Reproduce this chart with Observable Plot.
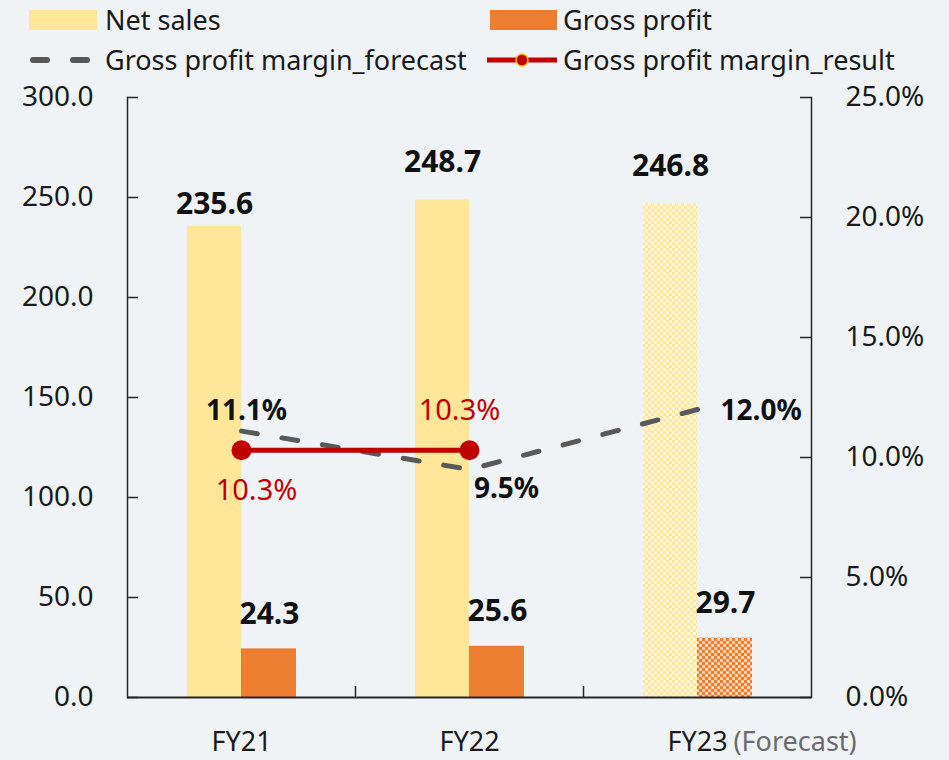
<!DOCTYPE html>
<html>
<head>
<meta charset="utf-8">
<script src="https://cdn.jsdelivr.net/npm/d3@7"></script>
<script src="https://cdn.jsdelivr.net/npm/@observablehq/plot@0.6"></script>
<style>
  html, body { margin: 0; padding: 0; background: #F0F3F5; }
  body { width: 949px; height: 760px; overflow: hidden; font-family: "Noto Sans", sans-serif; color: #1a1a1a; }
  #legend { position: relative; width: 949px; height: 80px; }
  #legend .t { position: absolute; font-size: 27px; line-height: 40px; white-space: nowrap; }
  #legend .sw { position: absolute; }
  #chart svg { display: block; }
</style>
</head>
<body>
<div id="legend"></div>
<div id="chart"></div>
<script>
// ---- data ----
const categories = ["FY21", "FY22", "FY23"];
const netSales = [235.6, 248.7, 246.8];
const grossProfit = [24.3, 25.6, 29.7];
const marginForecast = [11.1, 9.5, 12.0];
const marginResult = [10.3, 10.3]; // FY21, FY22 results
const forecastCategories = ["FY23"];
const leftTicks = [0, 50, 100, 150, 200, 250, 300];
const rightTicks = [0, 5, 10, 15, 20, 25];
const seriesNames = ["Net sales", "Gross profit", "Gross profit margin_forecast", "Gross profit margin_result"];

const C_NET = "#FFE699", C_GROSS = "#ED7D31", C_RED = "#C00000", C_DASH = "#595959", C_AXIS = "#262626";
const PCT = 300 / 25; // right-axis % -> left-axis units

const rows = categories.map((c, i) => ({cat: c, net: netSales[i], gross: grossProfit[i], fc: marginForecast[i] * PCT, fv: marginForecast[i], forecast: forecastCategories.includes(c)}));
const resultRows = marginResult.map((v, i) => ({cat: categories[i], r: v * PCT, v}));
const actual = rows.filter(d => !d.forecast);
const fut = rows.filter(d => d.forecast);

// ---- legend ----
const legend = document.getElementById("legend");
function add(html) { legend.insertAdjacentHTML("beforeend", html); }
add(`<div class="sw" style="left:29px;top:10px;width:68px;height:20px;background:${C_NET}"></div>`);
add(`<div class="t" style="left:105px;top:0px">${seriesNames[0]}</div>`);
add(`<div class="sw" style="left:490px;top:10px;width:67px;height:20px;background:${C_GROSS}"></div>`);
add(`<div class="t" style="left:563px;top:0px">${seriesNames[1]}</div>`);
add(`<svg class="sw" style="left:25px;top:50px" width="76" height="20"><line x1="8" y1="10" x2="70" y2="10" stroke="${C_DASH}" stroke-width="6" stroke-linecap="round" stroke-dasharray="14,26"/></svg>`);
add(`<div class="t" style="left:105px;top:40px">${seriesNames[2]}</div>`);
add(`<svg class="sw" style="left:485px;top:50px" width="76" height="20"><line x1="2" y1="10" x2="72" y2="10" stroke="${C_RED}" stroke-width="5"/><circle cx="37" cy="10" r="6" fill="${C_RED}" stroke="#FFC000" stroke-width="1.5"/></svg>`);
add(`<div class="t" style="left:563px;top:40px">${seriesNames[3]}</div>`);

// ---- chart ----
const fmtL = d3.format(".1f");
const pctFmt = v => v.toFixed(1) + "%";
const lbl = {fontWeight: "bold", fill: "#111", fontSize: 30};
const plbl = {fontWeight: "bold", fill: "#111", fontSize: 28};
const rlbl = {fill: C_RED, fontSize: 29};
const chart = Plot.plot({
  width: 949,
  height: 680,
  marginTop: 17,
  marginBottom: 63,
  marginLeft: 127,
  marginRight: 138,
  style: {background: "transparent", fontFamily: "Noto Sans", fontSize: "28px", color: "#1a1a1a", overflow: "visible"},
  x: {type: "band", domain: categories, padding: 0, label: null},
  y: {domain: [0, 300], label: null},
  marks: [
    // bars
    Plot.barY(actual, {x: "cat", y: "net", fill: C_NET, insetLeft: 60, insetRight: 114}),
    Plot.barY(fut, {x: "cat", y: "net", fill: "url(#patNet)", insetLeft: 60, insetRight: 114}),
    Plot.barY(actual, {x: "cat", y: "gross", fill: C_GROSS, insetLeft: 114, insetRight: 59}),
    Plot.barY(fut, {x: "cat", y: "gross", fill: "url(#patGross)", insetLeft: 114, insetRight: 59}),
    // frame lines
    Plot.frame({anchor: "left", stroke: C_AXIS, strokeWidth: 1.5}),
    Plot.frame({anchor: "right", stroke: C_AXIS, strokeWidth: 1.5}),
    Plot.ruleY([0], {stroke: C_AXIS, strokeWidth: 2}),
    // inner ticks
    Plot.tickY(leftTicks, {y: d => d, insetRight: 673, stroke: C_AXIS, strokeWidth: 1.5}),
    Plot.tickY(rightTicks, {y: d => d * PCT, insetLeft: 673, stroke: C_AXIS, strokeWidth: 1.5}),
    Plot.tickX(categories.slice(0, 2), {x: d => d, dx: 114, insetTop: 589, stroke: C_AXIS, strokeWidth: 1.5}),
    // axes
    Plot.axisY(leftTicks, {anchor: "left", tickSize: 0, tickPadding: 34, tickFormat: fmtL, label: null}),
    Plot.axisY(rightTicks.map(d => d * PCT), {anchor: "right", tickSize: 0, tickPadding: 34, textAnchor: "start", tickFormat: d => pctFmt(d / PCT), label: null}),
    Plot.axisX({tickSize: 0, tickPadding: 34, label: null, fontSize: 27}),
    Plot.text(forecastCategories, {x: d => d, frameAnchor: "bottom", text: () => "(Forecast)", dx: 36, dy: 34, textAnchor: "start", lineAnchor: "top", fill: "#6b6b6b", fontSize: 27}),
    // bar value labels
    Plot.text(rows.filter(d => d.cat === "FY21"), {x: "cat", y: "net", text: d => d.net.toFixed(1), dx: -27, dy: -22, ...lbl}),
    Plot.text(rows.filter(d => d.cat !== "FY21"), {x: "cat", y: "net", text: d => d.net.toFixed(1), dx: -27, dy: -38, ...lbl}),
    Plot.text(rows, {x: "cat", y: "gross", text: d => d.gross.toFixed(1), dx: 28, dy: -35, ...lbl}),
    // margin lines
    Plot.line(rows, {x: "cat", y: "fc", stroke: C_DASH, strokeWidth: 5, strokeDasharray: "16,25", strokeLinecap: "round"}),
    Plot.line(resultRows, {x: "cat", y: "r", stroke: C_RED, strokeWidth: 5}),
    Plot.dot(resultRows, {x: "cat", y: "r", r: 10, fill: C_RED, stroke: "none"}),
    // margin labels
    Plot.text(rows.filter(d => d.cat === "FY21"), {x: "cat", y: "fc", text: d => pctFmt(d.fv), dx: 5, dy: -20, ...plbl}),
    Plot.text(rows.filter(d => d.cat === "FY22"), {x: "cat", y: "fc", text: d => pctFmt(d.fv), dx: 37, dy: 20, ...plbl}),
    Plot.text(rows.filter(d => d.cat === "FY23"), {x: "cat", y: "fc", text: d => pctFmt(d.fv), dx: 23, dy: 2, textAnchor: "start", ...plbl}),
    Plot.text(resultRows.filter(d => d.cat === "FY21"), {x: "cat", y: "r", text: d => pctFmt(d.v), dx: 15, dy: 40, ...rlbl}),
    Plot.text(resultRows.filter(d => d.cat === "FY22"), {x: "cat", y: "r", text: d => pctFmt(d.v), dx: -10, dy: -40, ...rlbl})
  ]
});

// patterns for forecast bars
const ns = "http://www.w3.org/2000/svg";
const defs = document.createElementNS(ns, "defs");
function pattern(id, base, light) {
  const p = document.createElementNS(ns, "pattern");
  p.setAttribute("id", id);
  p.setAttribute("width", 6);
  p.setAttribute("height", 6);
  p.setAttribute("patternUnits", "userSpaceOnUse");
  const bg = document.createElementNS(ns, "rect");
  bg.setAttribute("width", 6); bg.setAttribute("height", 6); bg.setAttribute("fill", light);
  p.appendChild(bg);
  for (const [x, y, f, s] of [[0, 0, base, 3], [3, 3, base, 3], [4, 1, "#ffffff", 1]]) {
    const r = document.createElementNS(ns, "rect");
    r.setAttribute("x", x); r.setAttribute("y", y);
    r.setAttribute("width", s); r.setAttribute("height", s);
    r.setAttribute("fill", f);
    p.appendChild(r);
  }
  defs.appendChild(p);
}
pattern("patNet", C_NET, "#FFF6DC");
pattern("patGross", C_GROSS, "#F9D2B6");
chart.insertBefore(defs, chart.firstChild);

document.getElementById("chart").appendChild(chart);
</script>
</body>
</html>
